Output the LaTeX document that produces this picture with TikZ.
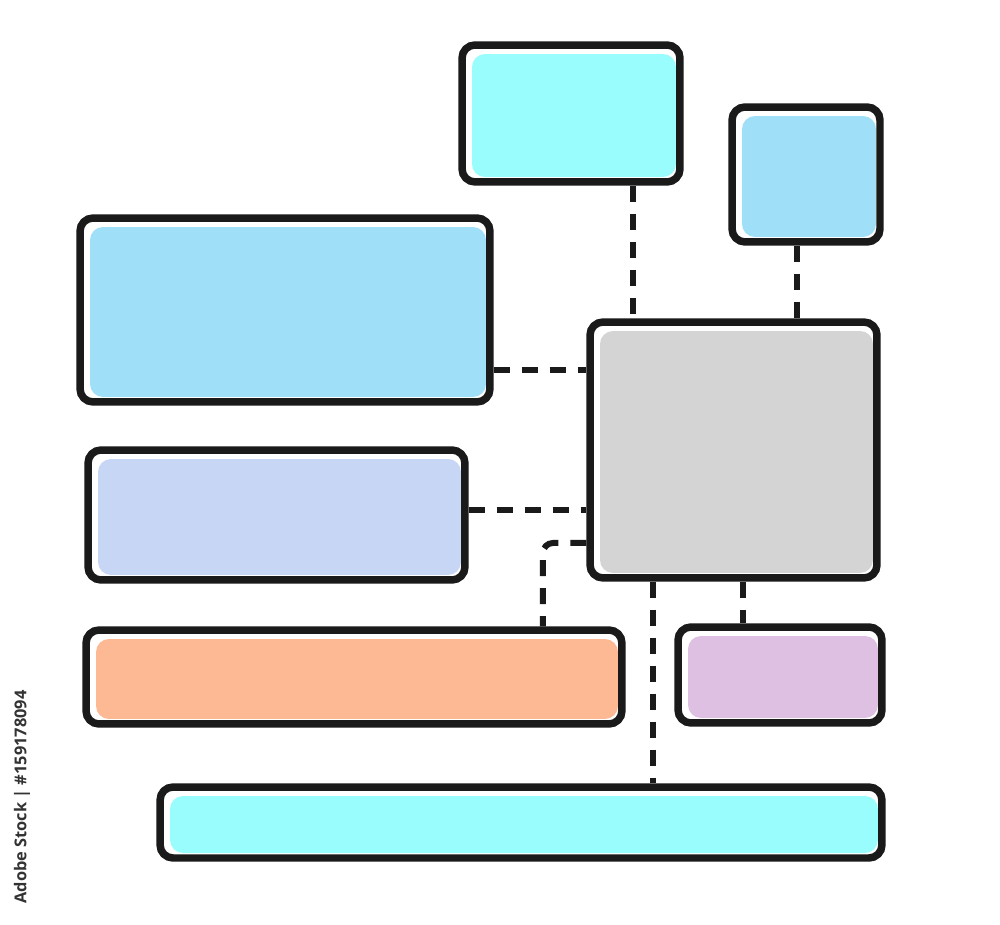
\documentclass[tikz,border=0pt]{standalone}
\usepackage{fontspec}
\newfontfamily\wmfont{Open Sans}
\usepackage{tikz}
\usetikzlibrary{positioning}

\definecolor{ink}{RGB}{26,26,26}
\definecolor{cyanfill}{RGB}{153,253,253}
\definecolor{bluefill}{RGB}{160,223,248}
\definecolor{greyfill}{RGB}{212,212,212}
\definecolor{lavfill}{RGB}{200,214,245}
\definecolor{orangefill}{RGB}{253,184,148}
\definecolor{purplefill}{RGB}{221,192,226}

\tikzset{
    box/.style={draw=ink, line width=1.5mm, rounded corners=2.6mm, fill=white, inner sep=0pt,
        path picture={\fill[#1] ([xshift=0.2cm,yshift=-0.18cm]path picture bounding box.north west)
            rectangle ([xshift=-0.08cm,yshift=0.1cm]path picture bounding box.south east);}},
    link/.style={draw=ink, line width=1.2mm, dash pattern=on 3.2mm off 2.4mm}
}

\begin{document}
\begin{tikzpicture}[x=0.02cm, y=-0.02cm]
    \useasboundingbox[fill=white] (0,0) rectangle (1000,925);

    % boxes
    \node[box=cyanfill, minimum width=4.36cm, minimum height=2.74cm] (T1) at (571,113.5) {};
    \node[box=bluefill, minimum width=2.96cm, minimum height=2.70cm] (T2) at (806,174.5) {};
    \node[box=bluefill, minimum width=8.20cm, minimum height=3.68cm] (L1) at (285,310) {};
    \node[box=greyfill, minimum width=5.74cm, minimum height=5.12cm] (H) at (733.5,450) {};
    \node[box=lavfill, minimum width=7.54cm, minimum height=2.60cm] (L2) at (276.5,515) {};
    \node[box=orangefill, minimum width=10.72cm, minimum height=1.88cm] (L3) at (354,677) {};
    \node[box=purplefill, minimum width=4.08cm, minimum height=1.92cm] (R1) at (780,675) {};
    \node[box=cyanfill, minimum width=14.44cm, minimum height=1.42cm] (B) at (521,822.5) {};

    % dashed links to the hub
    \draw[link] ([xshift=1.24cm]T1.south) -- ([xshift=1.24cm]T1.south |- H.north);
    \draw[link] ([xshift=-0.18cm]T2.south) -- ([xshift=-0.18cm]T2.south |- H.north);
    \draw[link] ([yshift=-1.2cm]L1.east) -- ([yshift=-1.2cm]L1.east -| H.west);
    \draw[link] ([yshift=0.1cm]L2.east) -- ([yshift=0.1cm]L2.east -| H.west);
    \draw[link, rounded corners=2mm] ([yshift=-1.86cm]H.west) -| ([xshift=3.78cm]L3.north);
    \draw[link] ([xshift=-1.62cm]H.south) -- ([xshift=-1.62cm]H.south |- B.north);
    \draw[link] ([xshift=0.19cm]H.south) -- ([xshift=0.19cm]H.south |- R1.north);

    \node[rotate=90, text=black!80, font=\wmfont\bfseries\fontsize{9.3}{11}\selectfont] (W) at (22,797) {Adobe Stock | \#159178094};
\end{tikzpicture}
\end{document}
